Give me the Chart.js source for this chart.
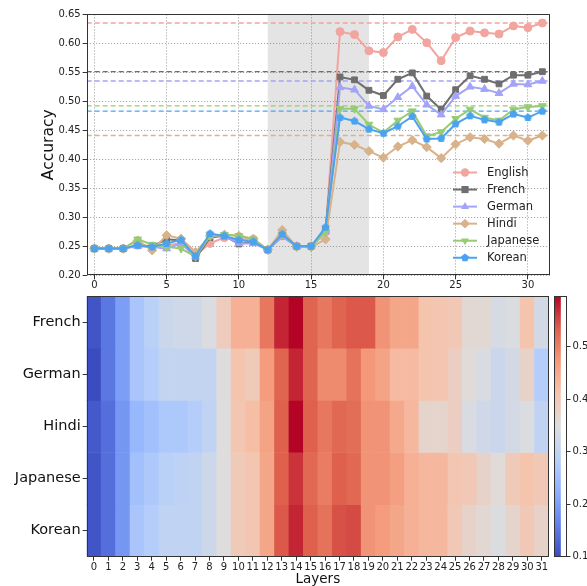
<!DOCTYPE html>
<html><head><meta charset="utf-8">
<script src="https://cdn.jsdelivr.net/npm/chart.js@4.4.1/dist/chart.umd.min.js"></script>
<style>
html,body{margin:0;padding:0;background:#fff;overflow:hidden;width:587px;height:586px}
canvas{position:absolute;display:block}
#c1{left:0;top:0}
#c2{left:0;top:292px}
#c3{left:550px;top:292px}
</style></head><body>
<canvas id="c1" width="587" height="292"></canvas>
<canvas id="c2" width="550" height="294"></canvas>
<canvas id="c3" width="37" height="294"></canvas>
<script>
// ---------- DATA ----------
const layers = [0,1,2,3,4,5,6,7,8,9,10,11,12,13,14,15,16,17,18,19,20,21,22,23,24,25,26,27,28,29,30,31];
const languages = ['English','French','German','Hindi','Japanese','Korean'];
const english  = [0.246,0.246,0.246,0.252,0.250,0.252,0.255,0.235,0.255,0.265,0.262,0.262,0.244,0.268,0.250,0.250,0.275,0.620,0.615,0.587,0.584,0.611,0.624,0.601,0.570,0.610,0.621,0.618,0.616,0.630,0.627,0.635];
const french   = [0.246,0.246,0.246,0.252,0.250,0.262,0.260,0.229,0.265,0.268,0.254,0.258,0.244,0.268,0.250,0.250,0.279,0.542,0.537,0.519,0.510,0.538,0.549,0.509,0.486,0.520,0.544,0.538,0.530,0.545,0.545,0.551];
const german   = [0.246,0.246,0.246,0.250,0.249,0.246,0.255,0.232,0.268,0.268,0.255,0.255,0.244,0.266,0.250,0.250,0.275,0.524,0.520,0.492,0.486,0.507,0.526,0.494,0.477,0.509,0.525,0.521,0.514,0.530,0.529,0.535];
const hindi    = [0.246,0.246,0.246,0.260,0.243,0.269,0.263,0.240,0.268,0.270,0.268,0.263,0.244,0.278,0.249,0.249,0.262,0.430,0.425,0.414,0.403,0.422,0.433,0.421,0.402,0.426,0.438,0.435,0.427,0.441,0.432,0.441];
const japanese = [0.246,0.246,0.246,0.262,0.253,0.249,0.246,0.232,0.268,0.270,0.268,0.262,0.244,0.270,0.250,0.249,0.275,0.487,0.487,0.460,0.446,0.467,0.483,0.440,0.447,0.470,0.486,0.472,0.467,0.486,0.490,0.492];
const korean   = [0.246,0.246,0.246,0.252,0.249,0.255,0.261,0.233,0.272,0.268,0.261,0.258,0.244,0.271,0.250,0.250,0.283,0.472,0.466,0.452,0.445,0.457,0.474,0.435,0.436,0.461,0.475,0.468,0.464,0.478,0.472,0.483];
const highlightRange = [12, 19];
const xTickValues = [0,5,10,15,20,25,30];
const yTickValues = [0.20,0.25,0.30,0.35,0.40,0.45,0.50,0.55,0.60,0.65];

const heatRows = ['French','German','Hindi','Japanese','Korean'];
const heatFrench   = [0.110,0.150,0.200,0.265,0.290,0.315,0.325,0.325,0.345,0.390,0.440,0.440,0.510,0.575,0.597,0.530,0.510,0.530,0.540,0.540,0.480,0.455,0.455,0.410,0.405,0.400,0.360,0.360,0.335,0.345,0.410,0.330];
const heatGerman   = [0.100,0.150,0.200,0.265,0.280,0.305,0.305,0.305,0.305,0.350,0.410,0.395,0.470,0.530,0.575,0.530,0.490,0.490,0.515,0.475,0.460,0.425,0.425,0.410,0.405,0.385,0.355,0.340,0.315,0.330,0.375,0.280];
const heatHindi    = [0.115,0.140,0.190,0.240,0.255,0.270,0.270,0.280,0.300,0.350,0.405,0.420,0.460,0.535,0.597,0.535,0.510,0.525,0.520,0.480,0.480,0.450,0.430,0.370,0.370,0.385,0.340,0.325,0.315,0.330,0.345,0.300];
const heatJapanese = [0.110,0.140,0.190,0.255,0.270,0.290,0.295,0.300,0.320,0.350,0.395,0.405,0.455,0.535,0.565,0.525,0.505,0.535,0.525,0.480,0.480,0.465,0.440,0.430,0.430,0.405,0.400,0.375,0.355,0.395,0.410,0.400];
const heatKorean   = [0.110,0.140,0.190,0.265,0.280,0.300,0.300,0.300,0.320,0.350,0.395,0.405,0.455,0.540,0.575,0.535,0.515,0.545,0.550,0.480,0.470,0.455,0.440,0.430,0.430,0.400,0.375,0.360,0.345,0.370,0.400,0.375];
const colorbarTicks = [0.1,0.2,0.3,0.4,0.5];

// ---------- STYLE ----------
const FONT = 'DejaVu Sans';
const colors = {English:'#F2A49E', French:'#6E6E6E', German:'#A3A3F7', Hindi:'#D7B28A', Japanese:'#97CB74', Korean:'#4BA3EF'};
const series = {English:english, French:french, German:german, Hindi:hindi, Japanese:japanese, Korean:korean};
const markers = {English:'circle', French:'rect', German:'triangle', Hindi:'rectRot', Japanese:'triangleDown', Korean:'pentagon'};

function polyCanvas(n, r, color, rot){
  const s = Math.ceil(r*2+2), c = document.createElement('canvas');
  c.width = s; c.height = s;
  const g = c.getContext('2d');
  g.beginPath();
  for(let k=0;k<n;k++){const a = rot + k*2*Math.PI/n; const px=s/2+r*Math.cos(a), py=s/2+r*Math.sin(a); k?g.lineTo(px,py):g.moveTo(px,py);}
  g.closePath(); g.fillStyle=color; g.fill();
  return c;
}
function drawMarker(ctx, type, x, y, r, color){
  ctx.save(); ctx.fillStyle=color; ctx.strokeStyle=color; ctx.lineWidth=1;
  ctx.beginPath();
  const poly=(n,rot,rr)=>{for(let k=0;k<n;k++){const a=rot+k*2*Math.PI/n;const px=x+rr*Math.cos(a),py=y+rr*Math.sin(a);k?ctx.lineTo(px,py):ctx.moveTo(px,py);}ctx.closePath();};
  if(type==='circle') ctx.arc(x,y,r,0,Math.PI*2);
  else if(type==='rect') ctx.rect(x-r*0.85,y-r*0.85,r*1.7,r*1.7);
  else if(type==='triangle') poly(3,-Math.PI/2,r*1.1);
  else if(type==='triangleDown') poly(3,Math.PI/2,r*1.1);
  else if(type==='rectRot') poly(4,0,r*1.15);
  else if(type==='pentagon') poly(5,-Math.PI/2,r);
  ctx.fill(); ctx.restore();
}
function pointStyleFor(lang){
  const m = markers[lang];
  if(m==='pentagon') return {pointStyle: polyCanvas(5,4.3,colors[lang],-Math.PI/2), rot:0, r:4.4};
  if(m==='triangleDown') return {pointStyle:'triangle', rot:180, r:4.5};
  if(m==='rect') return {pointStyle:'rect', rot:0, r:4.1};
  if(m==='rectRot') return {pointStyle:'rectRot', rot:0, r:4.6};
  if(m==='triangle') return {pointStyle:'triangle', rot:0, r:4.5};
  return {pointStyle:'circle', rot:0, r:4.0};
}

// ---------- LINE CHART ----------
const X_MIN = -0.53, X_MAX = 31.53;
const datasets = [];
languages.forEach((lang,i)=>{
  const ps = pointStyleFor(lang);
  datasets.push({
    label: lang,
    data: layers.map((l,j)=>({x:l, y:series[lang][j]})),
    borderColor: colors[lang], backgroundColor: colors[lang],
    pointBackgroundColor: colors[lang], pointBorderColor: colors[lang],
    borderWidth: 2, pointRadius: ps.r, pointStyle: ps.pointStyle, pointRotation: ps.rot,
    pointBorderWidth: 1, tension: 0, order: 10 - i
  });
});
languages.forEach((lang)=>{
  const mx = Math.max(...series[lang]);
  datasets.push({
    label: lang+' max',
    data: [{x:X_MIN, y:mx},{x:X_MAX, y:mx}],
    borderColor: colors[lang], borderWidth: 1.3, borderDash:[5,3],
    pointRadius: 0, order: 30
  });
});

const framePlugin = {
  id:'frame',
  afterDraw(chart){
    const {ctx, chartArea:a} = chart;
    ctx.save(); ctx.strokeStyle='#333'; ctx.lineWidth=1;
    ctx.strokeRect(Math.round(a.left)+0.5, Math.round(a.top)+0.5, Math.round(a.right-a.left)-1, Math.round(a.bottom-a.top)-1);
    ctx.restore();
  }
};
const spanPlugin = {
  id:'span',
  beforeDraw(chart){
    const {ctx, chartArea:a, scales:{x}} = chart;
    const x0 = x.getPixelForValue(highlightRange[0]), x1 = x.getPixelForValue(highlightRange[1]);
    ctx.save(); ctx.fillStyle='#e4e4e4'; ctx.fillRect(x0, a.top, x1-x0, a.bottom-a.top); ctx.restore();
  }
};
const legendPlugin = {
  id:'customLegend',
  afterDraw(chart){
    const {ctx} = chart;
    const x0 = 453, x1 = 477, tx = 487, y0 = 172.5, dy = 17.05;
    ctx.save();
    ctx.font = '11.5px "'+FONT+'"'; ctx.textBaseline='middle'; ctx.fillStyle='#222';
    languages.forEach((lang,i)=>{
      const y = y0 + i*dy;
      ctx.strokeStyle = colors[lang]; ctx.lineWidth = 2;
      ctx.beginPath(); ctx.moveTo(x0,y); ctx.lineTo(x1,y); ctx.stroke();
      drawMarker(ctx, markers[lang], (x0+x1)/2, y, 4.2, colors[lang]);
      ctx.fillStyle='#222'; ctx.fillText(lang, tx, y+0.5);
    });
    ctx.restore();
  }
};

new Chart(document.getElementById('c1'), {
  type:'line',
  data:{datasets},
  options:{
    responsive:false, animation:false, devicePixelRatio:1,
    layout:{padding:{left:0, right:37, top:14.3, bottom:0}},
    plugins:{legend:{display:false}, tooltip:{enabled:false}},
    scales:{
      x:{
        type:'linear', min:X_MIN, max:X_MAX,
        afterBuildTicks:(s)=>{ s.ticks = xTickValues.map(v=>({value:v})); },
        afterFit:(s)=>{ s.height = 292 - 275.3; },
        ticks:{font:{family:FONT,size:10}, color:'#222', padding:0, maxRotation:0, autoSkip:false, callback:(v)=>String(v)},
        grid:{color:'rgba(110,110,110,0.75)', lineWidth:0.8, tickLength:4, tickColor:'#333', tickWidth:1},
        border:{display:false, dash:[1.2,1.8]}
      },
      y:{
        type:'linear', min:0.2, max:0.65,
        afterBuildTicks:(s)=>{ s.ticks = yTickValues.map(v=>({value:v})); },
        afterFit:(s)=>{ s.width = 86.7; },
        ticks:{font:{family:FONT,size:10}, color:'#222', padding:2, autoSkip:false, callback:(v)=>Number(v).toFixed(2)},
        grid:{color:'rgba(110,110,110,0.75)', lineWidth:0.8, tickLength:4, tickColor:'#333', tickWidth:1},
        border:{display:false, dash:[1.2,1.8]},
        title:{display:true, text:'Accuracy', font:{family:FONT,size:15.5}, color:'#111', padding:{top:40,bottom:0}}
      }
    }
  },
  plugins:[spanPlugin, framePlugin, legendPlugin]
});

// ---------- HEATMAP ----------
const heatData = [heatFrench, heatGerman, heatHindi, heatJapanese, heatKorean];
const allHeat = heatData.flat();
const vmin = Math.min(...allHeat), vmax = Math.max(...allHeat);
const cw = [[0,59,76,192],[0.125,98,130,234],[0.25,141,176,254],[0.375,184,208,249],[0.5,221,221,221],[0.625,245,196,173],[0.75,244,154,123],[0.875,222,96,77],[1,180,4,38]];
function coolwarm(t){
  t = Math.max(0, Math.min(1, t));
  for(let k=0;k<cw.length-1;k++){
    const a=cw[k], b=cw[k+1];
    if(t<=b[0]){const f=(t-a[0])/(b[0]-a[0]);
      return 'rgb('+[1,2,3].map(j=>Math.round(a[j]+(b[j]-a[j])*f)).join(',')+')';}
  }
  return 'rgb(180,4,38)';
}

new Chart(document.getElementById('c2'), {
  type:'bar',
  data:{
    labels: layers.map(String),
    datasets: heatRows.map((name,i)=>({
      label:name,
      data: layers.map(()=>[i-0.5, i+0.5]),
      backgroundColor: heatData[i].map(v=>coolwarm((v-vmin)/(vmax-vmin))),
      borderWidth:0, barPercentage:1, categoryPercentage:1
    }))
  },
  options:{
    responsive:false, animation:false, devicePixelRatio:1,
    layout:{padding:{left:0, right:1, top:3, bottom:0}},
    plugins:{legend:{display:false}, tooltip:{enabled:false}},
    scales:{
      x:{
        type:'category', stacked:true, offset:true,
        afterFit:(s)=>{ s.height = 294 - 264.7; },
        ticks:{font:{family:FONT,size:10}, color:'#222', padding:1, maxRotation:0, autoSkip:false},
        grid:{display:true, offset:false, drawOnChartArea:false, tickLength:4, tickColor:'#333', color:'#333'},
        border:{display:false},
        title:{display:true, text:'Layers', font:{family:FONT,size:13.5, lineHeight:1}, color:'#111', padding:{top:0,bottom:0}}
      },
      y:{
        type:'linear', min:-0.5, max:4.5, reverse:true,
        afterBuildTicks:(s)=>{ s.ticks = heatRows.map((n,i)=>({value:i})); },
        afterFit:(s)=>{ s.width = 86.7; },
        ticks:{font:{family:FONT,size:14.5,lineHeight:0.3}, color:'#111', padding:2, autoSkip:false, callback:(v)=>heatRows[v]},
        grid:{display:true, drawOnChartArea:false, tickLength:4, tickColor:'#333', color:'#333'},
        border:{display:false}
      }
    }
  },
  plugins:[framePlugin]
});

// ---------- COLORBAR ----------
new Chart(document.getElementById('c3'), {
  type:'bar',
  data:{
    labels:['cb'],
    datasets:[{
      data:[[vmin, vmax]],
      backgroundColor:(c)=>{
        const a = c.chart.chartArea; if(!a) return '#ccc';
        const g = c.chart.ctx.createLinearGradient(0, a.bottom, 0, a.top);
        cw.forEach(p=>g.addColorStop(p[0], 'rgb('+p[1]+','+p[2]+','+p[3]+')'));
        return g;
      },
      borderWidth:0, barPercentage:1, categoryPercentage:1
    }]
  },
  options:{
    responsive:false, animation:false, devicePixelRatio:1,
    layout:{padding:{left:4, right:0, top:3, bottom:294-264.7}},
    plugins:{legend:{display:false}, tooltip:{enabled:false}},
    scales:{
      x:{display:false, offset:false},
      y:{
        position:'right', type:'linear', min:vmin, max:vmax,
        afterBuildTicks:(s)=>{ s.ticks = colorbarTicks.map(v=>({value:v})); },
        afterFit:(s)=>{ s.width = 20; },
        ticks:{font:{family:FONT,size:10,lineHeight:0.4}, color:'#222', padding:2, autoSkip:false, callback:(v)=>Number(v).toFixed(1)},
        grid:{display:true, drawOnChartArea:false, tickLength:3.5, tickColor:'#333', color:'#333'},
        border:{display:false}
      }
    }
  },
  plugins:[framePlugin]
});
</script>
</body></html>
